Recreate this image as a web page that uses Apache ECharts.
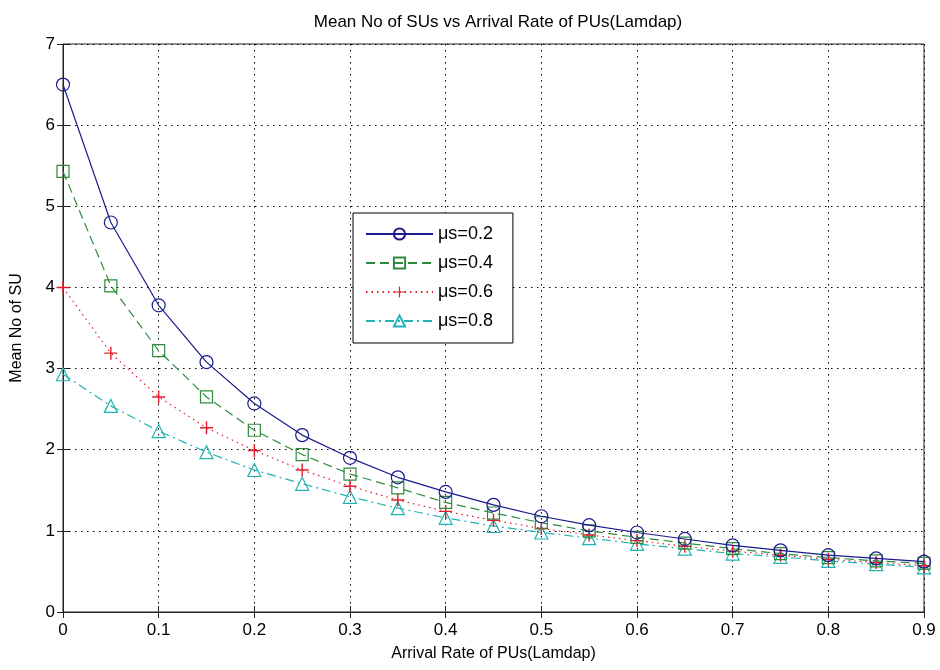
<!DOCTYPE html>
<html><head><meta charset="utf-8">
<script src="https://cdn.jsdelivr.net/npm/echarts@6/dist/echarts.min.js"></script>
<style>html,body{margin:0;padding:0;background:#fff}#c{width:940px;height:670px}</style>
</head><body><div id="c"></div>
<script>
const lamdap = [0,0.05,0.1,0.15,0.2,0.25,0.3,0.35,0.4,0.45,0.5,0.55,0.6,0.65,0.7,0.75,0.8,0.85,0.9];
const mu02 = [6.5,4.8,3.78,3.08,2.57,2.18,1.9,1.66,1.48,1.32,1.18,1.07,0.98,0.9,0.82,0.76,0.7,0.66,0.62];
const mu04 = [5.43,4.02,3.22,2.65,2.24,1.94,1.7,1.53,1.35,1.22,1.1,1.0,0.92,0.85,0.78,0.72,0.67,0.63,0.6];
const mu06 = [4.0,3.19,2.65,2.27,1.99,1.75,1.55,1.38,1.24,1.13,1.03,0.95,0.88,0.81,0.75,0.7,0.65,0.61,0.57];
const mu08 = [2.93,2.54,2.23,1.97,1.75,1.58,1.42,1.28,1.16,1.06,0.98,0.91,0.84,0.78,0.72,0.68,0.63,0.59,0.55];
const seriesNames = ['μs=0.2','μs=0.4','μs=0.6','μs=0.8'];
const xTicks = ['0','0.1','0.2','0.3','0.4','0.5','0.6','0.7','0.8','0.9'];

const FONT = 'Liberation Sans, Arial, sans-serif';
const pair = ys => lamdap.map((x,i)=>[x, ys[i]]);
const plus = 'path://M4.45,0h1.1v10h-1.1z M0,4.45h10v1.1h-10z';
const cols = ['#1b1b8e','#2f8a3c','#e0202e','#1fb3b3'];
const syms = ['circle','rect',plus,'triangle'];
const sizes = [13,12,13,13];
const dashes = ['solid',[9,5],[1.5,4],[9,4,2,4]];
const vals = [mu02,mu04,mu06,mu08];

const chart = echarts.init(document.getElementById('c'));
chart.setOption({
  animation:false,
  backgroundColor:'#fff',
  title:{text:'Mean No of SUs vs Arrival Rate of PUs(Lamdap)',left:493,textAlign:'center',top:9,
    textStyle:{fontFamily:FONT,fontSize:17,fontWeight:'normal',color:'#000'}},
  legend:{orient:'vertical',left:353,top:213,width:140,padding:[12,20,13,12],itemGap:11,itemWidth:67,itemHeight:14,
    borderColor:'#000',borderWidth:1,backgroundColor:'#fff',
    textStyle:{fontFamily:FONT,fontSize:18,color:'#000'},data:seriesNames},
  grid:{left:63,right:16,top:44,bottom:58,show:true,borderColor:'#222',borderWidth:1,backgroundColor:'#fff'},
  xAxis:[{type:'value',min:0,max:0.9,interval:0.1,
    name:'Arrival Rate of PUs(Lamdap)',nameLocation:'middle',nameGap:34,
    nameTextStyle:{fontFamily:FONT,fontSize:16,color:'#000'},
    axisLine:{lineStyle:{color:'#222'}},axisTick:{inside:true,length:6,lineStyle:{color:'#222'}},
    axisLabel:{fontFamily:FONT,fontSize:17,color:'#000',margin:10,formatter:(v)=>xTicks[Math.round(v*10)]},
    splitLine:{show:true,lineStyle:{color:'#000',type:[1.5,4.5],width:1}}},
   {type:'value',position:'top',min:0,max:0.9,interval:0.1,axisLine:{show:false},
    axisTick:{inside:true,length:6,lineStyle:{color:'#222'}},axisLabel:{show:false},splitLine:{show:false}}],
  yAxis:[{type:'value',min:0,max:7,interval:1,
    name:'Mean No of SU',nameLocation:'middle',nameGap:38,
    nameTextStyle:{fontFamily:FONT,fontSize:16,color:'#000'},
    axisLine:{show:true,lineStyle:{color:'#222'}},axisTick:{show:true,inside:true,length:6,lineStyle:{color:'#222'}},
    axisLabel:{fontFamily:FONT,fontSize:17,color:'#000',margin:8},
    splitLine:{show:true,lineStyle:{color:'#000',type:[1.5,4.5],width:1}}},
   {type:'value',position:'right',min:0,max:7,interval:1,axisLine:{show:false},
    axisTick:{show:true,inside:true,length:6,lineStyle:{color:'#222'}},axisLabel:{show:false},splitLine:{show:false}}],
  series: seriesNames.map((n,k)=>({
    name:n,type:'line',data:pair(vals[k]),symbol:syms[k],symbolSize:sizes[k],showAllSymbol:true,
    lineStyle:{color:cols[k],width:1.2,type:dashes[k]},
    itemStyle:{color:k===2?cols[k]:'rgba(255,255,255,0)',borderColor:cols[k],borderWidth:k===2?0:1.2},
    z:10-k
  }))
});
</script></body></html>
